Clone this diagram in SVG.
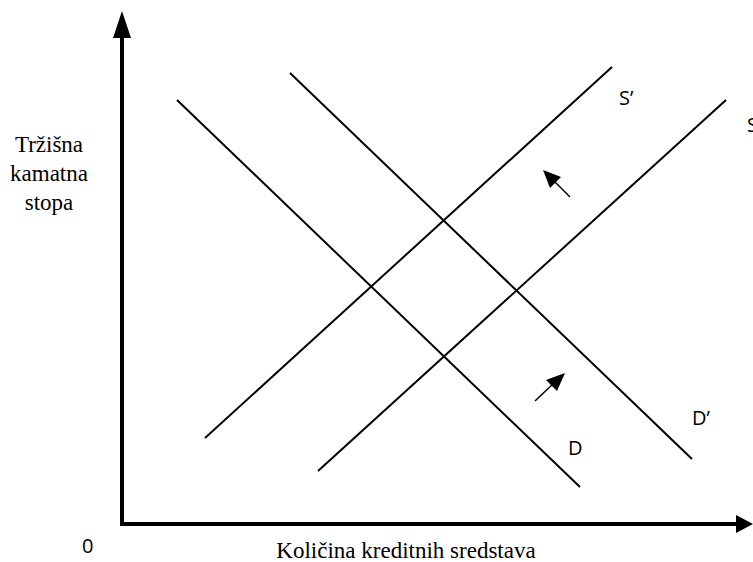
<svg xmlns="http://www.w3.org/2000/svg" width="753" height="562" viewBox="0 0 753 562">
<style>
.ln{stroke:#000;stroke-width:2;fill:none}
.ax{stroke:#000;stroke-width:4;fill:none}
.lab{font-family:"Open Sans","Liberation Sans",sans-serif;font-size:20px;fill:#000}
.ser{font-family:"Liberation Serif","Times New Roman",serif;font-size:23px;fill:#000}
</style>
<g id="axes">
<line class="ax" x1="122" y1="526" x2="122" y2="36"/>
<polygon points="122,11 113,38 131,38" fill="#000"/>
<line class="ax" x1="120" y1="524" x2="738" y2="524"/>
<polygon points="753,524 736,515 736,533" fill="#000"/>
</g>
<g id="connectors">
<line id="D" class="ln" x1="177" y1="100" x2="580" y2="487"/>
<line id="Dp" class="ln" x1="290" y1="73" x2="692" y2="459"/>
<line id="Sp" class="ln" x1="205" y1="438" x2="612" y2="67"/>
<line id="S" class="ln" x1="318" y1="471" x2="726" y2="100"/>
<g id="arrow-up">
<line x1="570" y1="197" x2="552" y2="179" stroke="#000" stroke-width="1.5"/>
<polygon points="543,170 561,177 550,188" fill="#000"/>
</g>
<g id="arrow-down">
<line x1="535" y1="401" x2="555" y2="382" stroke="#000" stroke-width="1.5"/>
<polygon points="565,373 557,391 546,380" fill="#000"/>
</g>
</g>
<g id="labels">
<text class="lab" x="619" y="105">S’</text>
<text class="lab" x="747" y="132">S</text>
<text class="lab" x="692" y="425">D’</text>
<text class="lab" x="568" y="455">D</text>
<text class="lab" x="82" y="553">0</text>
<text class="ser" x="49" y="152" text-anchor="middle">Tržišna</text>
<text class="ser" x="49" y="181" text-anchor="middle">kamatna</text>
<text class="ser" x="49" y="210" text-anchor="middle">stopa</text>
<text class="ser" x="406" y="558" text-anchor="middle">Količina kreditnih sredstava</text>
</g>
</svg>
